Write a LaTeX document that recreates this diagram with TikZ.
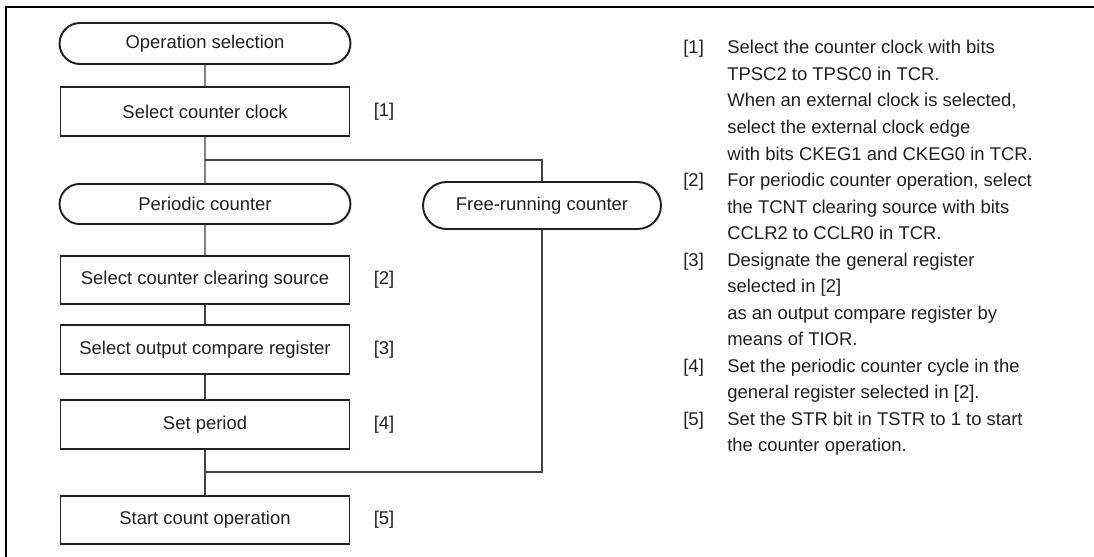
\documentclass[tikz,border=0pt]{standalone}
\usepackage{fontspec}
\setmainfont{Liberation Sans}
\usepackage{tikz}
\usetikzlibrary{positioning,shapes.misc}
\newcommand{\flowfont}{\fontsize{10.5}{15.1}\selectfont}
\definecolor{ink}{RGB}{35,31,32}

\begin{document}
\begin{tikzpicture}[x=0.02cm, y=-0.02cm,
  proc/.style={draw=ink, line width=1.1pt, minimum width=5.78cm,
    minimum height=0.97cm, inner sep=0pt, text=ink, font=\flowfont},
  term/.style={draw=ink, line width=1.1pt, rounded rectangle,
    minimum width=5.82cm, minimum height=0.82cm, inner sep=0pt,
    text=ink, font=\flowfont},
  ref/.style={anchor=west, inner sep=0pt, text=ink, font=\flowfont},
  flow/.style={draw=ink!85, line width=0.7pt}
]
\useasboundingbox (0,0) rectangle (1094,557);

% Frame
\draw[line width=1.6pt] (6,557) -- (6,7) -- (1094,7);

% Main column
\node[term] (opsel) at (205,43.5) {Operation selection};
\node[proc] (clk) at (205,111.5) {Select counter clock};
\node[ref, right=4.6mm of clk] (r1) {[1]};

\node[term, minimum height=0.8cm] (periodic) at (205,204) {Periodic counter};

\node[proc] (clr) at (205,280) {Select counter clearing source};
\node[ref, right=4.6mm of clr] (r2) {[2]};
\node[proc] (ocr) at (205,349.5) {Select output compare register};
\node[ref, right=4.6mm of ocr] (r3) {[3]};
\node[proc] (per) at (205,424.5) {Set period};
\node[ref, right=4.6mm of per] (r4) {[4]};
\node[proc] (start) at (205,520) {Start count operation};
\node[ref, right=4.6mm of start] (r5) {[5]};

% Free-running branch
\node[term, minimum width=4.76cm, minimum height=0.94cm] (free)
  at (542,205.5) {Free-running counter};
\coordinate (split) at (205,160);
\coordinate (merge) at (205,472);

% Connectors
\draw[flow] (opsel) -- (clk);
\draw[flow] (clk) -- (periodic);
\draw[flow] (split) -| (free.north);
\draw[flow] (periodic) -- (clr);
\draw[flow] (clr) -- (ocr);
\draw[flow] (ocr) -- (per);
\draw[flow] (per) -- (start);
\draw[flow] (free.south) |- (merge);

% Notes
\node[anchor=north west, inner sep=0pt, text=ink, font=\flowfont]
  (notes) at (683,35) {\begin{tabular}{@{}p{0.88cm}@{}l@{}}
{[1]} & Select the counter clock with bits\\
 & TPSC2 to TPSC0 in TCR.\\
 & When an external clock is selected,\\
 & select the external clock edge\\
 & with bits CKEG1 and CKEG0 in TCR.\\
{[2]} & For periodic counter operation, select\\
 & the TCNT clearing source with bits\\
 & CCLR2 to CCLR0 in TCR.\\
{[3]} & Designate the general register\\
 & selected in [2]\\
 & as an output compare register by\\
 & means of TIOR.\\
{[4]} & Set the periodic counter cycle in the\\
 & general register selected in [2].\\
{[5]} & Set the STR bit in TSTR to 1 to start\\
 & the counter operation.
\end{tabular}};

\end{tikzpicture}
\end{document}
